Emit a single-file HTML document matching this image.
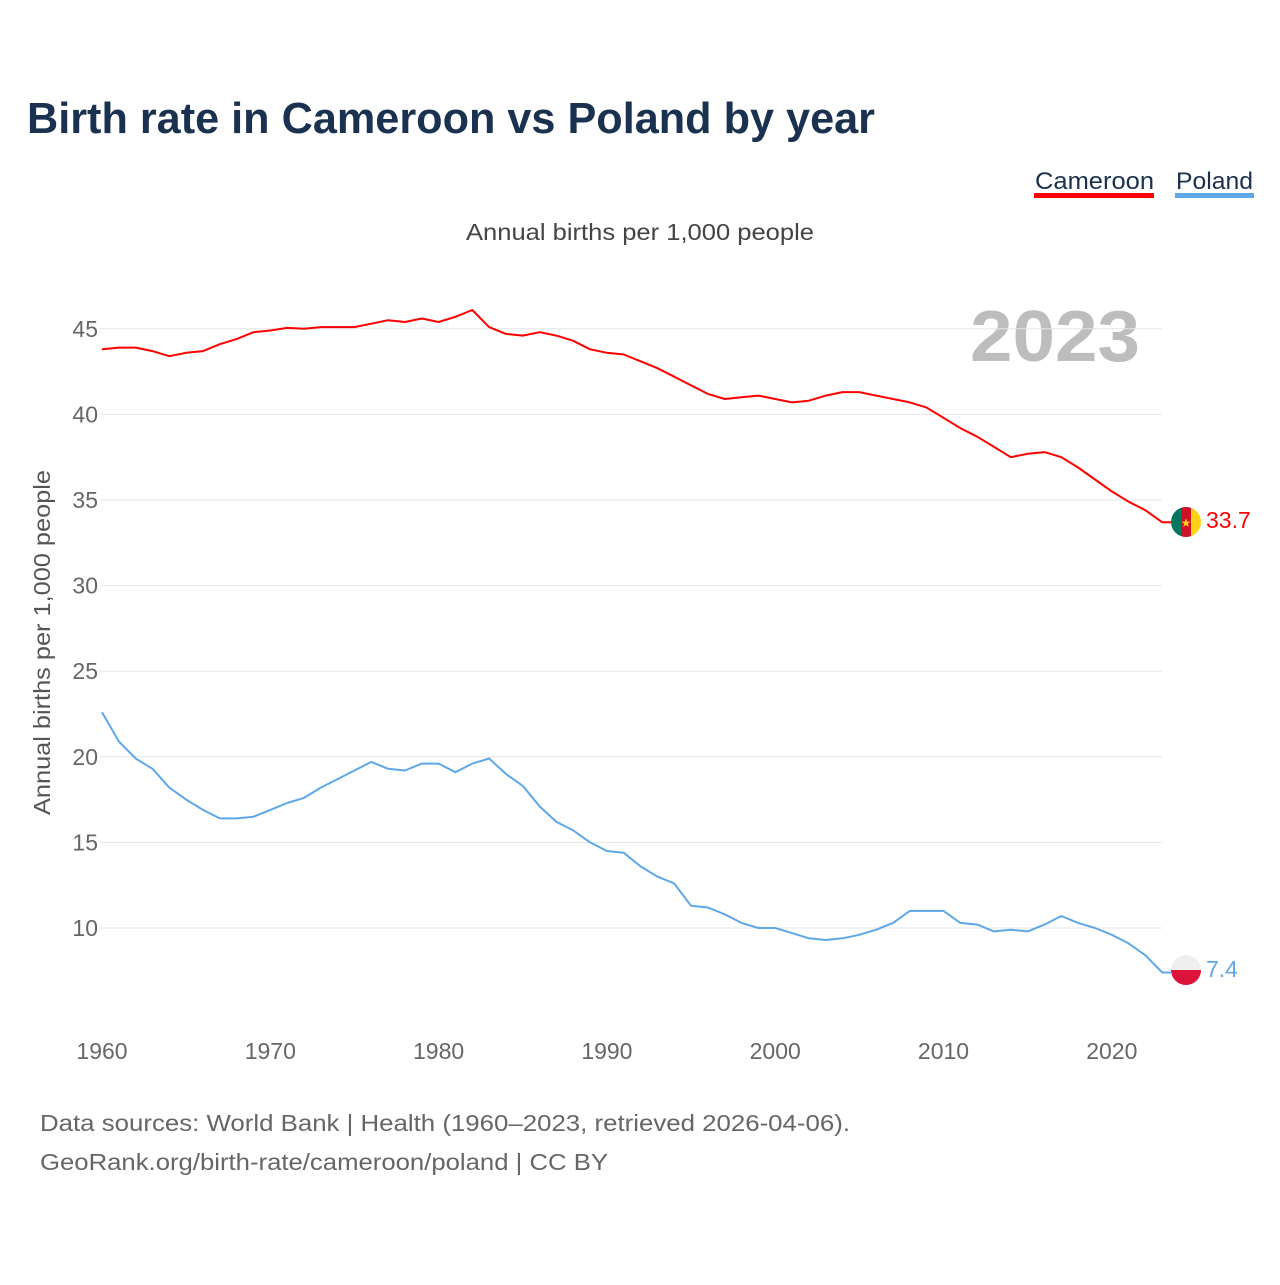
<!DOCTYPE html>
<html><head><meta charset="utf-8"><style>
body{margin:0;background:#fff;font-family:"Liberation Sans",sans-serif}
svg text{font-family:"Liberation Sans",sans-serif}
</style></head><body>
<svg width="1280" height="1280" xmlns="http://www.w3.org/2000/svg">
<text x="27" y="133" font-size="44" font-weight="bold" fill="#1a3150" textLength="848" lengthAdjust="spacingAndGlyphs">Birth rate in Cameroon vs Poland by year</text>
<g><text x="1035" y="189" font-size="24" fill="#1a3150" textLength="119" lengthAdjust="spacingAndGlyphs">Cameroon</text><rect x="1034" y="193" width="120" height="5" fill="#ff0000"/></g>
<g><text x="1176" y="189" font-size="24" fill="#1a3150" textLength="77" lengthAdjust="spacingAndGlyphs">Poland</text><rect x="1175" y="193" width="79" height="5" fill="#5fa8e8"/></g>
<text x="466" y="240" font-size="23" fill="#444" textLength="348" lengthAdjust="spacingAndGlyphs">Annual births per 1,000 people</text>
<text x="970" y="361" font-size="72" font-weight="bold" fill="#bdbdbd" textLength="170" lengthAdjust="spacingAndGlyphs">2023</text>
<text transform="translate(50,815) rotate(-90)" font-size="23" fill="#555" textLength="345" lengthAdjust="spacingAndGlyphs">Annual births per 1,000 people</text>
<g id="grid"></g><g id="yt"></g><g id="xt"></g><g id="lines"></g>
<g>
<clipPath id="cc"><circle cx="1186" cy="522" r="15"/></clipPath>
<g clip-path="url(#cc)"><rect x="1171" y="507" width="10" height="30" fill="#007a5e"/><rect x="1181" y="507" width="10" height="30" fill="#ce1126"/><rect x="1191" y="507" width="10" height="30" fill="#fcd116"/></g>
<text x="1186" y="527" font-size="12" fill="#fcd116" text-anchor="middle">★</text></g>
<g>
<clipPath id="pc"><circle cx="1186" cy="970" r="15"/></clipPath>
<g clip-path="url(#pc)"><rect x="1171" y="955" width="30" height="15" fill="#eeeeee"/><rect x="1171" y="970" width="30" height="15" fill="#dc143c"/></g></g>
<text x="1206" y="528" font-size="23" fill="#ff0000">33.7</text>
<text x="1206" y="977" font-size="23" fill="#5fa8e8">7.4</text>
<text x="40" y="1131" font-size="23" fill="#666" textLength="810" lengthAdjust="spacingAndGlyphs">Data sources: World Bank | Health (1960–2023, retrieved 2026-04-06).</text>
<text x="40" y="1170" font-size="23" fill="#666" textLength="568" lengthAdjust="spacingAndGlyphs">GeoRank.org/birth-rate/cameroon/poland | CC BY</text>
</svg>
<script>
const years=[];for(let y=1960;y<=2023;y++)years.push(y);
const cameroon=[43.8,43.9,43.9,43.7,43.4,43.6,43.7,44.1,44.4,44.8,44.9,45.05,45.0,45.1,45.1,45.1,45.3,45.5,45.4,45.6,45.4,45.7,46.1,45.1,44.7,44.6,44.8,44.6,44.3,43.8,43.6,43.5,43.1,42.7,42.2,41.7,41.2,40.9,41.0,41.1,40.9,40.7,40.8,41.1,41.3,41.3,41.1,40.9,40.7,40.4,39.8,39.2,38.7,38.1,37.5,37.7,37.8,37.5,36.9,36.2,35.5,34.9,34.4,33.7];
const poland=[22.6,20.9,19.9,19.3,18.2,17.5,16.9,16.4,16.4,16.5,16.9,17.3,17.6,18.2,18.7,19.2,19.7,19.3,19.2,19.6,19.6,19.1,19.6,19.9,19.0,18.3,17.1,16.2,15.7,15.0,14.5,14.4,13.6,13.0,12.6,11.3,11.2,10.8,10.3,10.0,10.0,9.7,9.4,9.3,9.4,9.6,9.9,10.3,11.0,11.0,11.0,10.3,10.2,9.8,9.9,9.8,10.2,10.7,10.3,10.0,9.6,9.1,8.4,7.4];
const yTicks=[10,15,20,25,30,35,40,45];
const xTicks=[1960,1970,1980,1990,2000,2010,2020];
const NS="http://www.w3.org/2000/svg";
const X=y=>102+(y-1960)*16.83;
const Y=v=>928-(v-10)*17.12;
function mk(t,a,p){const e=document.createElementNS(NS,t);for(const k in a)e.setAttribute(k,a[k]);document.getElementById(p).appendChild(e);return e;}
yTicks.forEach(v=>{
 const l=mk('line',{x1:100,x2:1162,y1:Y(v),y2:Y(v),stroke:'#e6e6e6','stroke-width':1},'grid');
 
 
 const t=mk('text',{x:98,y:Y(v)+8,'font-size':23,fill:'#666','text-anchor':'end'},'yt');
 t.textContent=v;
 
 
});
xTicks.forEach(v=>{
 const t=mk('text',{x:X(v),y:1059,'font-size':23,fill:'#666','text-anchor':'middle'},'xt');
 t.textContent=v;
 
 
});
function line(d,c,n){
 const last=d[d.length-1];
 const p=mk('path',{d:d.map((v,i)=>(i?'L':'M')+X(years[i]).toFixed(1)+','+Y(v).toFixed(1)).join('')+'L1171,'+Y(last).toFixed(1),fill:'none',stroke:c,'stroke-width':2,'stroke-linejoin':'round'},'lines');
 
 
}
line(cameroon,'#ff0000','cameroon-line');
line(poland,'#5fa8e8','poland-line');
</script>
</body></html>
